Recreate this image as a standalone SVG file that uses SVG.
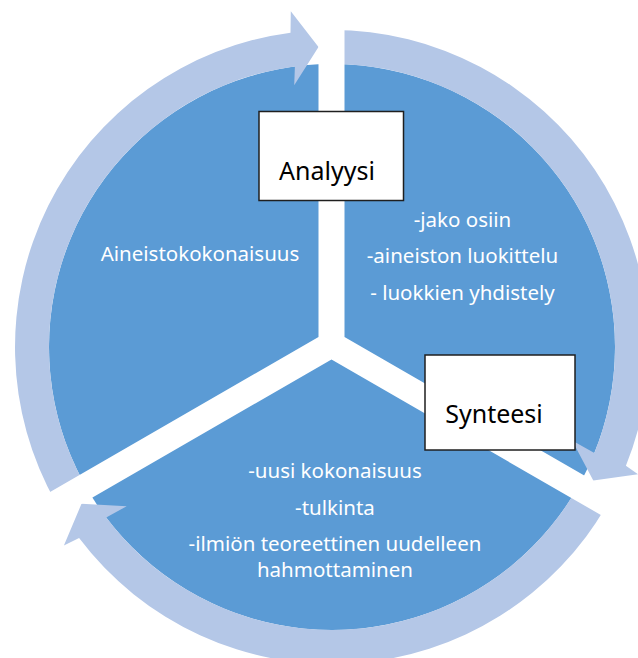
<svg xmlns="http://www.w3.org/2000/svg" width="638" height="658" viewBox="0 0 638 658">
<style>
.pie{fill:#5B9BD5}
.arrow{fill:#B4C7E7}
.gap{fill:#FFFFFF}
.box{fill:#FFFFFF;stroke:#1F1F1F;stroke-width:1.5}
.wt{font-family:"Noto Sans","DejaVu Sans",sans-serif;font-size:20.5px;fill:#FFFFFF;text-anchor:middle}
.bt{font-family:"Noto Sans","DejaVu Sans",sans-serif;font-size:25px;fill:#000000;text-anchor:middle}
</style>
<rect x="0" y="0" width="638" height="658" fill="#FFFFFF"/>
<g id="pie">
<circle class="pie" cx="332" cy="347" r="283"/>
</g>
<g id="connectors">
<path class="arrow" d="M56.3,503.4 A317,317 0 0 1 290.5,32.7 L290.8,11.2 L318.5,47 L294.2,85.2 L294.9,66.4 A283,283 0 0 0 85.7,486.4 Z"/>
<path class="arrow" d="M331.5,30 A317,317 0 0 1 625.9,465.8 L638.1,474.2 L593.3,480.6 L572.1,440.6 L594.4,453.1 A283,283 0 0 0 331.5,64 Z"/>
<path class="arrow" d="M607.5,503.9 A317,317 0 0 1 79.1,538.1 L63.9,545.4 L81.5,503.8 L126.7,506.2 L106.2,517.6 A283,283 0 0 0 578,486.8 Z"/>
</g>
<g id="gaps">
<path class="gap" d="M318.5,-5 L318.5,337 L-10,526.7 L-10,556.7 L331.5,359.5 L648,542.2 L648,512.2 L344.5,337 L344.5,-5 Z"/>
</g>
<g id="segment-aineisto">
<text class="wt" x="200" y="261">Aineistokokonaisuus</text>
</g>
<g id="segment-analyysi">
<text class="wt" x="462.5" y="226.5">-jako osiin</text>
<text class="wt" x="462.5" y="263">-aineiston luokittelu</text>
<text class="wt" x="462.5" y="299.5">- luokkien yhdistely</text>
</g>
<g id="segment-synteesi">
<text class="wt" x="335" y="478.4">-uusi kokonaisuus</text>
<text class="wt" x="335" y="514.5">-tulkinta</text>
<text class="wt" x="335" y="551">-ilmiön teoreettinen uudelleen</text>
<text class="wt" x="335" y="577.4">hahmottaminen</text>
</g>
<g id="node-analyysi">
<rect class="box" x="259" y="111.5" width="144.5" height="89"/>
<text class="bt" x="327" y="180">Analyysi</text>
</g>
<g id="node-synteesi">
<rect class="box" x="425" y="355" width="150" height="95"/>
<text class="bt" x="494" y="423">Synteesi</text>
</g>
</svg>
